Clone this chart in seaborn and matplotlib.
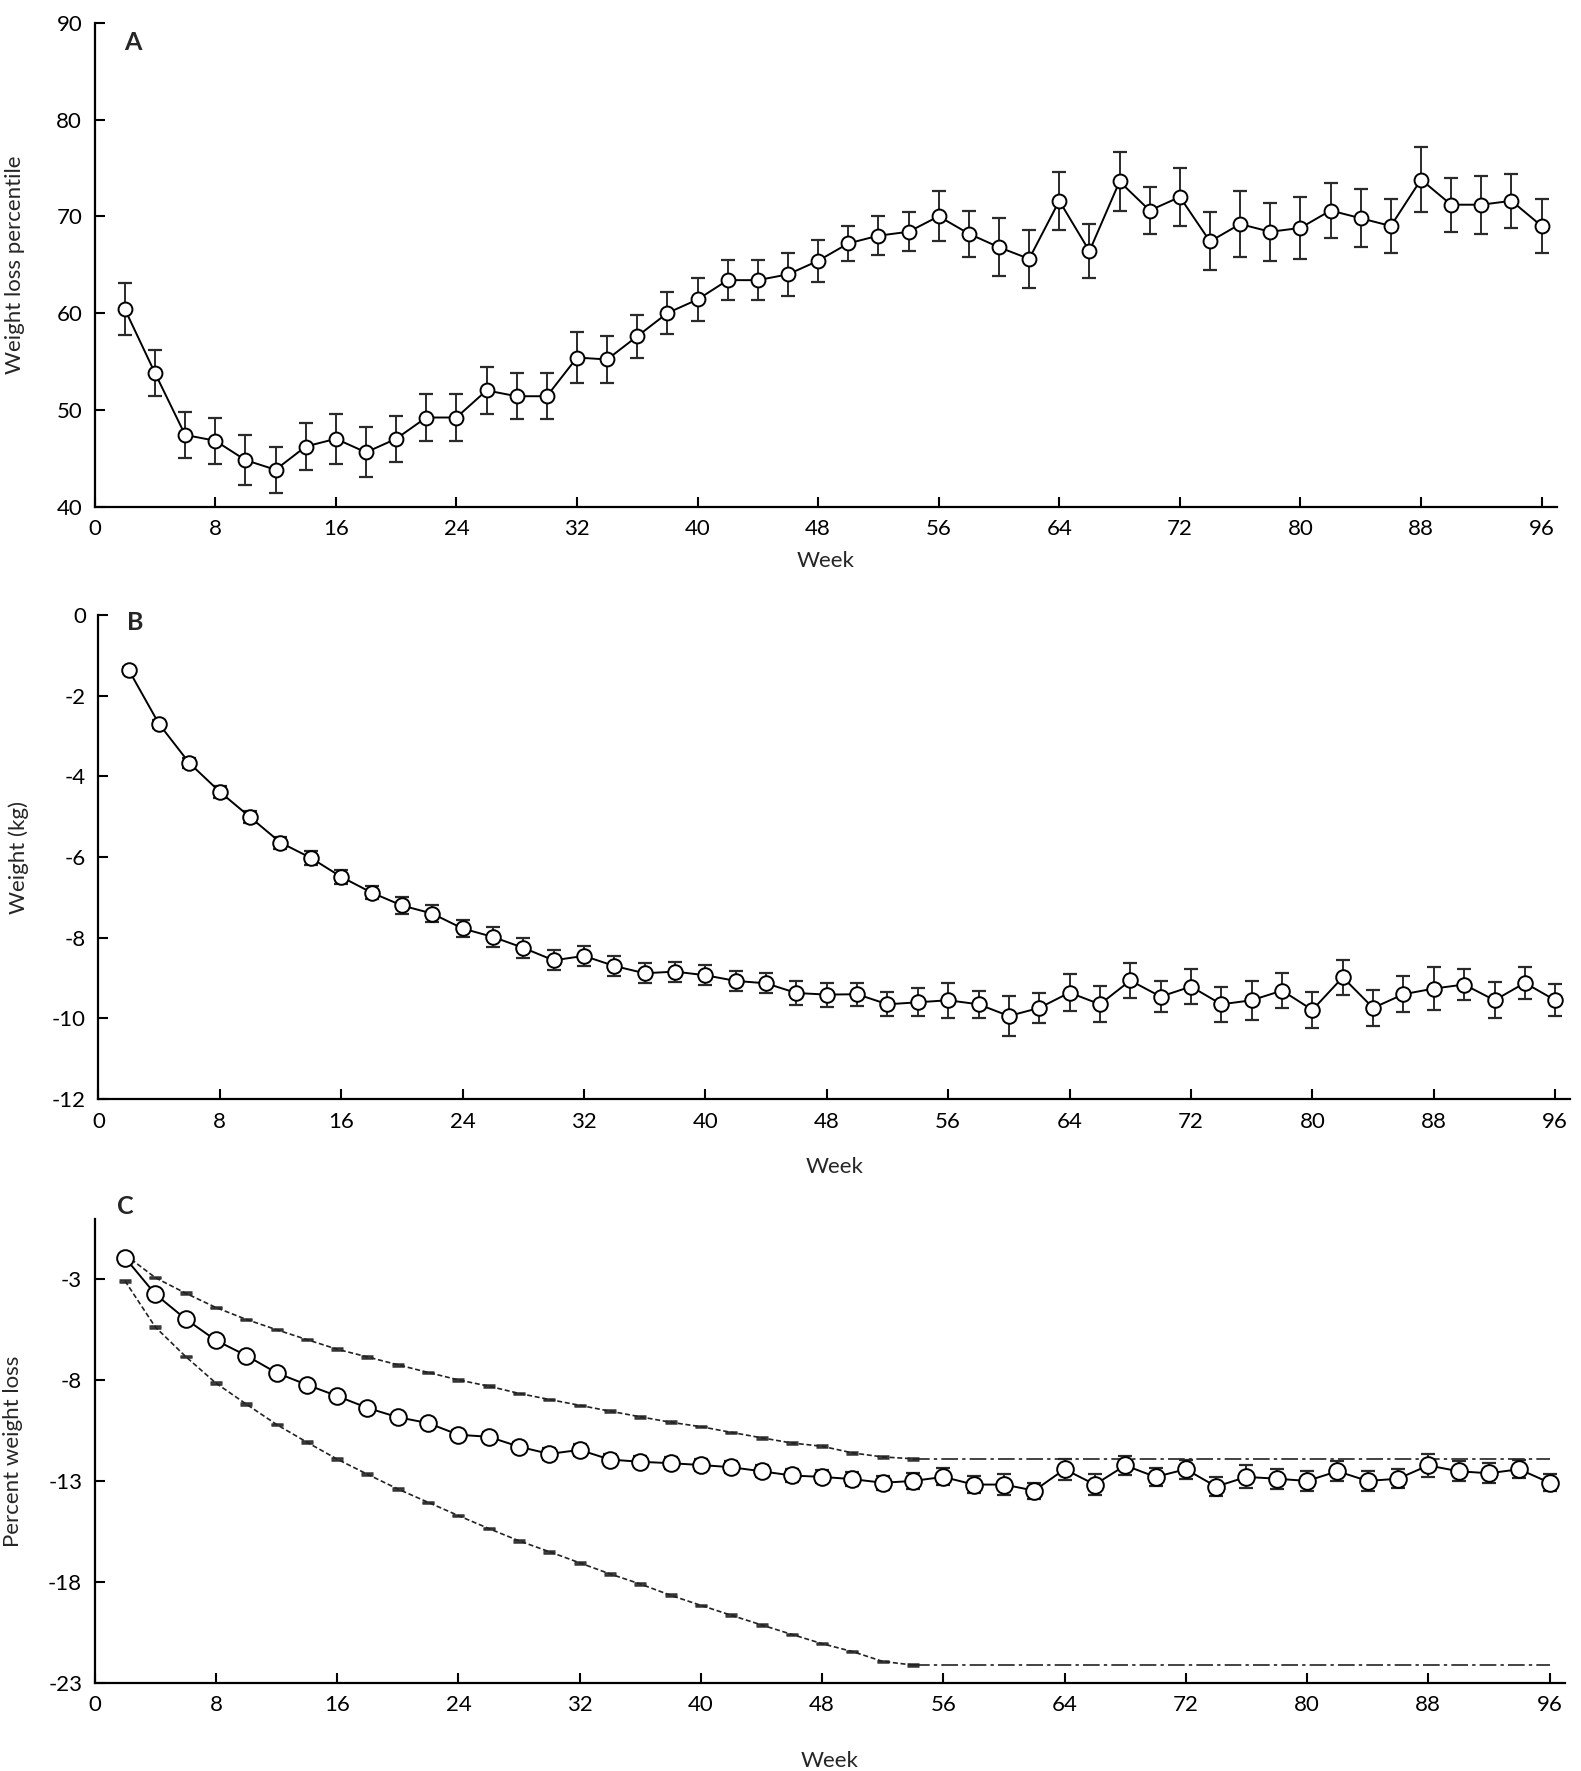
import numpy as np
import matplotlib
matplotlib.use("Agg")
import matplotlib.pyplot as plt
import seaborn as sns

# weeks of follow-up (every 2 weeks)
weeks = list(range(2, 97, 2))

# Panel A: weight loss percentile (mean, SE)
pct_mean = [60.4, 53.8, 47.4, 46.8, 44.8, 43.8, 46.2, 47.0, 45.6, 47.0,
            49.2, 49.2, 52.0, 51.4, 51.4, 55.4, 55.2, 57.6, 60.0, 61.4,
            63.4, 63.4, 64.0, 65.4, 67.2, 68.0, 68.4, 70.0, 68.2, 66.8,
            65.6, 71.6, 66.4, 73.6, 70.6, 72.0, 67.4, 69.2, 68.4, 68.8,
            70.6, 69.8, 69.0, 73.8, 71.2, 71.2, 71.6, 69.0]
pct_se = [2.7, 2.4, 2.4, 2.4, 2.6, 2.4, 2.4, 2.6, 2.6, 2.4,
          2.4, 2.4, 2.4, 2.4, 2.4, 2.6, 2.4, 2.2, 2.2, 2.2,
          2.1, 2.1, 2.2, 2.2, 1.8, 2.0, 2.0, 2.6, 2.4, 3.0,
          3.0, 3.0, 2.8, 3.0, 2.4, 3.0, 3.0, 3.4, 3.0, 3.2,
          2.8, 3.0, 2.8, 3.4, 2.8, 3.0, 2.8, 2.8]

# Panel B: weight change in kg (mean, SE)
kg_mean = [-1.36, -2.70, -3.67, -4.38, -5.01, -5.64, -6.02, -6.49, -6.88, -7.20,
           -7.40, -7.77, -7.98, -8.25, -8.56, -8.45, -8.70, -8.88, -8.84, -8.93,
           -9.07, -9.13, -9.37, -9.41, -9.40, -9.65, -9.60, -9.55, -9.65, -9.94,
           -9.74, -9.36, -9.65, -9.06, -9.46, -9.21, -9.65, -9.55, -9.31, -9.79,
           -8.98, -9.74, -9.40, -9.26, -9.16, -9.55, -9.12, -9.55]
kg_se = [0.08, 0.10, 0.12, 0.15, 0.15, 0.15, 0.17, 0.17, 0.17, 0.20,
         0.20, 0.20, 0.25, 0.24, 0.25, 0.25, 0.25, 0.25, 0.25, 0.25,
         0.25, 0.25, 0.30, 0.30, 0.28, 0.30, 0.35, 0.43, 0.34, 0.50,
         0.38, 0.45, 0.45, 0.44, 0.38, 0.44, 0.44, 0.48, 0.44, 0.44,
         0.43, 0.44, 0.44, 0.53, 0.38, 0.45, 0.39, 0.40]

# Panel C: percent weight loss (mean, SE)
pwl_mean = [-1.92, -3.73, -4.96, -6.02, -6.77, -7.63, -8.22, -8.78, -9.37, -9.83,
            -10.12, -10.70, -10.80, -11.29, -11.65, -11.45, -11.93, -12.04, -12.11, -12.20,
            -12.31, -12.51, -12.72, -12.79, -12.90, -13.08, -12.99, -12.79, -13.17, -13.17,
            -13.47, -12.41, -13.17, -12.22, -12.79, -12.41, -13.27, -12.79, -12.88, -12.99,
            -12.51, -12.99, -12.88, -12.22, -12.51, -12.61, -12.41, -13.08]
pwl_se = [0.10, 0.12, 0.12, 0.15, 0.15, 0.15, 0.15, 0.18, 0.20, 0.22,
          0.22, 0.25, 0.25, 0.25, 0.28, 0.28, 0.28, 0.28, 0.30, 0.30,
          0.30, 0.30, 0.32, 0.32, 0.33, 0.35, 0.38, 0.42, 0.42, 0.52,
          0.40, 0.51, 0.50, 0.48, 0.45, 0.48, 0.46, 0.57, 0.50, 0.48,
          0.50, 0.48, 0.48, 0.58, 0.50, 0.50, 0.45, 0.43]

# Panel C: reference bounds up to week 54, then flat to week 96
bound_weeks = list(range(2, 55, 2))
upper_bound = [-1.77, -2.91, -3.68, -4.39, -4.98, -5.49, -5.98, -6.46, -6.84, -7.23,
               -7.61, -7.98, -8.29, -8.65, -8.95, -9.24, -9.53, -9.81, -10.08, -10.30,
               -10.58, -10.85, -11.11, -11.27, -11.60, -11.80, -11.89]
lower_bound = [-3.07, -5.36, -6.82, -8.14, -9.18, -10.19, -11.07, -11.91, -12.66, -13.39,
               -14.05, -14.71, -15.35, -15.96, -16.50, -17.05, -17.60, -18.10, -18.66, -19.16,
               -19.65, -20.13, -20.60, -21.06, -21.45, -21.94, -22.12]
plateau_weeks = [54, 96]
upper_plateau = [-11.89, -11.89]
lower_plateau = [-22.12, -22.12]

sns.set_theme(style="ticks")
plt.rcParams['font.family'] = ['Lato', 'DejaVu Sans']
plt.rcParams['axes.unicode_minus'] = False

fig = plt.figure(figsize=(15.81, 17.71), dpi=100)
axA = fig.add_axes([0.0599, 0.7140, 0.9247, 0.2731])
axB = fig.add_axes([0.0622, 0.3794, 0.9311, 0.2733])
axC = fig.add_axes([0.0599, 0.0498, 0.9298, 0.2619])


def draw_series(ax, y, se, ms):
    ax.errorbar(weeks, y, yerr=se, fmt='none', ecolor='#2a2a2a', elinewidth=1.4,
                capsize=5, capthick=1.6, zorder=2)
    sns.lineplot(x=weeks, y=y, ax=ax, color='black', linewidth=1.4, marker='o',
                 markersize=ms, markerfacecolor='white', markeredgecolor='black',
                 markeredgewidth=1.4, zorder=3)


def style_axis(ax, yticks, ylim, ylabel, label_x, week_drop, h_px):
    ax.set_xlim(0, 97)
    ax.set_ylim(*ylim)
    ax.set_xticks(range(0, 97, 8))
    ax.set_yticks(yticks)
    for s in ['top', 'right']:
        ax.spines[s].set_visible(False)
    for s in ['left', 'bottom']:
        ax.spines[s].set_linewidth(1.6)
        ax.spines[s].set_color('black')
    ax.tick_params(direction='in', length=7, width=1.5, labelsize=16, pad=9,
                   colors='black')
    ax.set_ylabel(ylabel, fontsize=16)
    ax.yaxis.set_label_coords(label_x, 0.5)
    ax.set_xlabel('Week', fontsize=16)
    ax.xaxis.set_label_coords(0.5, -week_drop / h_px)


draw_series(axA, pct_mean, pct_se, 10)
style_axis(axA, range(40, 91, 10), (40, 90), 'Weight loss percentile', -0.048, 44, 483.6)
axA.text(0.026, 0.960, 'A', transform=axA.transAxes, fontsize=18,
         fontweight='bold', ha='center', va='center')

draw_series(axB, kg_mean, kg_se, 10.5)
style_axis(axB, range(-12, 1, 2), (-12, 0), 'Weight (kg)', -0.047, 58, 484.1)
axB.text(0.025, 0.984, 'B', transform=axB.transAxes, fontsize=18,
         fontweight='bold', ha='center', va='center')

# bounds in panel C
for vals, flat in [(upper_bound, upper_plateau), (lower_bound, lower_plateau)]:
    axC.errorbar(bound_weeks, vals, yerr=0.04, fmt='none', ecolor='#333333',
                 elinewidth=1, capsize=4, capthick=1.8, zorder=1)
    sns.lineplot(x=bound_weeks, y=vals, ax=axC, color='#222222', linewidth=1.2,
                 linestyle=(0, (3, 1.6)), zorder=1)
    sns.lineplot(x=plateau_weeks, y=flat, ax=axC, color='#222222', linewidth=1.2,
                 linestyle=(0, (10, 2.5, 2, 2.5)), zorder=1)

draw_series(axC, pwl_mean, pwl_se, 12)
style_axis(axC, [-23, -18, -13, -8, -3], (-23, 0), 'Percent weight loss', -0.049, 68, 463.9)
axC.text(0.021, 1.026, 'C', transform=axC.transAxes, fontsize=18,
         fontweight='bold', ha='center', va='center')

fig.savefig('out.png', dpi=100)
